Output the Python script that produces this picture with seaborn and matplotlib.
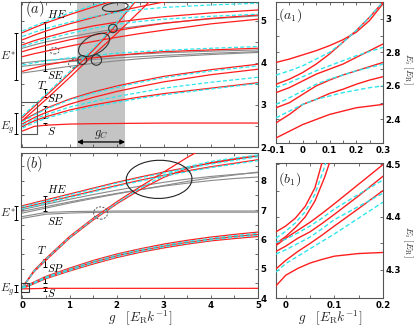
import numpy as np
import pandas as pd
import seaborn as sns
import matplotlib
matplotlib.use("Agg")
import matplotlib.pyplot as plt
from matplotlib.patches import Ellipse, Rectangle
import matplotlib.transforms as mtransforms

# ---------------- data: panel (a) ----------------
G_A = [0, 0.25, 0.5, 1, 1.5, 2, 2.5, 3, 4, 5]
A_S = [2.38, 2.49, 2.52, 2.545, 2.555, 2.56, 2.565, 2.57, 2.57, 2.57]
A_SP_R1 = [2.49, 2.62, 2.72, 2.88, 3.00, 3.10, 3.19, 3.27, 3.40, 3.53]
A_SP_R2 = [2.55, 2.70, 2.82, 3.02, 3.18, 3.32, 3.44, 3.55, 3.72, 3.85]
A_SP_R3 = [2.63, 2.78, 2.92, 3.14, 3.31, 3.45, 3.57, 3.68, 3.84, 3.97]
A_SP_C1 = [2.45, 2.58, 2.68, 2.84, 2.96, 3.06, 3.16, 3.24, 3.38, 3.51]
A_SP_C2 = [2.52, 2.66, 2.77, 2.95, 3.08, 3.20, 3.30, 3.40, 3.54, 3.66]
A_SP_C3 = [2.60, 2.76, 2.90, 3.12, 3.28, 3.42, 3.54, 3.65, 3.81, 3.93]
A_E_R1 = [4.72, 4.84, 4.95, 5.15, 5.33, 5.50, 5.65, 5.80, 6.00, 6.20]
A_E_C1 = [4.76, 4.88, 4.99, 5.19, 5.37, 5.53, 5.68, 5.80, 6.00, 6.20]
A_E_R2 = [4.55, 4.66, 4.76, 4.93, 5.08, 5.22, 5.34, 5.45, 5.60, 5.70]
A_E_C2 = [4.63, 4.73, 4.82, 4.97, 5.10, 5.20, 5.27, 5.32, 5.38, 5.42]
A_E_R3 = [4.43, 4.53, 4.61, 4.76, 4.88, 4.97, 5.04, 5.10, 5.19, 5.26]
A_E_C3 = [4.39, 4.48, 4.56, 4.70, 4.82, 4.92, 4.99, 5.04, 5.11, 5.16]
A_E_G1 = [4.35, 4.43, 4.50, 4.62, 4.72, 4.81, 4.88, 4.95, 5.05, 5.12]
A_E_R4 = [4.27, 4.35, 4.42, 4.55, 4.66, 4.77, 4.86, 4.94, 5.06, 5.14]
A_E_R5 = [4.15, 4.22, 4.28, 4.40, 4.51, 4.61, 4.70, 4.78, 4.93, 5.04]
A_F_C = [3.95, 4.00, 4.05, 4.12, 4.18, 4.23, 4.27, 4.30, 4.35, 4.39]
A_F_R = [3.80, 3.88, 3.95, 4.05, 4.12, 4.18, 4.23, 4.27, 4.31, 4.35]
A_F_G1 = [4.00, 4.03, 4.06, 4.10, 4.14, 4.18, 4.21, 4.24, 4.28, 4.31]
A_F_G2 = [3.92, 3.95, 3.98, 4.03, 4.08, 4.12, 4.15, 4.18, 4.23, 4.27]
A_F_G3 = [3.76, 3.80, 3.84, 3.92, 3.99, 4.05, 4.10, 4.14, 4.20, 4.25]
G_AT = [0, 0.25, 0.5, 0.75, 1.0, 1.25, 1.5, 1.75, 2.0, 2.25, 2.5, 2.75]
A_T_R1 = [2.70, 2.96, 3.22, 3.48, 3.75, 4.02, 4.30, 4.60, 4.92, 5.26, 5.60, 5.95]
A_T_C1 = [2.74, 3.00, 3.26, 3.52, 3.79, 4.06, 4.34, 4.64, 4.96, 5.30, 5.65, 6.00]
A_T_R2 = [2.63, 2.88, 3.13, 3.39, 3.65, 3.92, 4.18, 4.44, 4.70, 4.97, 5.24, 5.52]

# ---------------- data: panel (b) ----------------
G_B = [0, 0.5, 1, 1.5, 2, 2.5, 3, 3.5, 4, 4.5, 5]
B_S = [4.31, 4.33, 4.33, 4.33, 4.33, 4.33, 4.33, 4.33, 4.33, 4.33, 4.33]
B_P_R1 = [4.36, 4.74, 5.02, 5.28, 5.50, 5.68, 5.84, 5.97, 6.08, 6.17, 6.25]
B_P_C1 = [4.35, 4.72, 4.99, 5.25, 5.47, 5.65, 5.80, 5.93, 6.04, 6.13, 6.21]
B_P_R2 = [4.34, 4.70, 4.97, 5.22, 5.44, 5.62, 5.77, 5.90, 6.01, 6.10, 6.17]
B_P_C2 = [4.33, 4.68, 4.94, 5.19, 5.41, 5.59, 5.74, 5.87, 5.98, 6.07, 6.14]
B_P_R3 = [4.32, 4.66, 4.92, 5.16, 5.38, 5.56, 5.71, 5.84, 5.95, 6.03, 6.10]
B_E_R1 = [7.15, 7.35, 7.55, 7.75, 7.95, 8.13, 8.30, 8.46, 8.60, 8.73, 8.85]
B_E_C1 = [7.12, 7.32, 7.52, 7.72, 7.92, 8.10, 8.27, 8.43, 8.57, 8.70, 8.82]
B_E_R2 = [7.08, 7.27, 7.46, 7.65, 7.84, 8.02, 8.19, 8.34, 8.48, 8.60, 8.72]
B_E_C2 = [7.05, 7.24, 7.43, 7.62, 7.81, 7.99, 8.16, 8.31, 8.45, 8.57, 8.69]
B_E_G1 = [7.02, 7.20, 7.37, 7.53, 7.68, 7.82, 7.95, 8.06, 8.15, 8.22, 8.28]
B_E_G2 = [6.96, 7.12, 7.28, 7.43, 7.57, 7.70, 7.82, 7.92, 8.01, 8.08, 8.13]
B_E_G3 = [6.90, 7.07, 7.24, 7.40, 7.55, 7.70, 7.84, 7.98, 8.10, 8.20, 8.30]
B_F_G1 = [6.72, 6.86, 6.90, 6.92, 6.93, 6.93, 6.93, 6.93, 6.93, 6.93, 6.93]
B_F_G2 = [6.78, 6.92, 6.95, 6.96, 6.97, 6.97, 6.97, 6.97, 6.97, 6.97, 6.97]
G_BT = [0, 0.25, 0.5, 1.0, 1.5, 2.0, 2.5, 3.0, 3.5, 4.0, 4.5, 5.0]
B_T_R1 = [4.37, 4.95, 5.35, 6.10, 6.72, 7.28, 7.80, 8.30, 8.80, 9.25, 9.70, 10.1]
B_T_C1 = [4.36, 4.92, 5.32, 6.07, 6.69, 7.24, 7.75, 8.18, 8.48, 8.66, 8.78, 8.88]
B_T_R2 = [4.35, 4.90, 5.29, 6.04, 6.66, 7.21, 7.70, 8.12, 8.42, 8.62, 8.75, 8.86]

# ---------------- data: panel (a1) ----------------
G_A1 = [-0.1, -0.05, 0, 0.05, 0.1, 0.15, 0.2, 0.25, 0.3]
A1_R1 = [2.29, 2.33, 2.37, 2.40, 2.43, 2.45, 2.47, 2.48, 2.49]
A1_R2 = [2.38, 2.43, 2.49, 2.52, 2.555, 2.58, 2.61, 2.635, 2.655]
A1_R3 = [2.47, 2.50, 2.55, 2.60, 2.635, 2.665, 2.69, 2.715, 2.74]
A1_R4 = [2.56, 2.59, 2.63, 2.67, 2.70, 2.73, 2.77, 2.81, 2.85]
A1_R5 = [2.61, 2.64, 2.68, 2.73, 2.79, 2.86, 2.93, 3.01, 3.10]
A1_R6 = [2.74, 2.76, 2.785, 2.81, 2.84, 2.875, 2.92, 2.99, 3.09]
A1_C1 = [2.665, 2.69, 2.72, 2.76, 2.80, 2.86, 2.93, 3.01, 3.10]
A1_C2 = [2.59, 2.62, 2.655, 2.69, 2.72, 2.75, 2.78, 2.805, 2.83]
A1_C3 = [2.49, 2.53, 2.57, 2.61, 2.64, 2.665, 2.69, 2.71, 2.73]
A1_C4 = [2.41, 2.45, 2.49, 2.52, 2.54, 2.56, 2.575, 2.59, 2.60]

# ---------------- data: panel (b1) ----------------
G_B1 = [-0.02, 0, 0.025, 0.05, 0.075, 0.1, 0.15, 0.2]
B1_S = [4.27, 4.29, 4.303, 4.313, 4.32, 4.326, 4.331, 4.333]
B1_P_R1 = [4.346, 4.36, 4.375, 4.39, 4.407, 4.425, 4.462, 4.499]
B1_P_R2 = [4.335, 4.345, 4.36, 4.372, 4.388, 4.405, 4.44, 4.477]
B1_P_R3 = [4.302, 4.318, 4.335, 4.35, 4.366, 4.383, 4.416, 4.45]
B1_P_C1 = [4.352, 4.358, 4.37, 4.383, 4.398, 4.415, 4.443, 4.47]
B1_P_C2 = [4.33, 4.338, 4.35, 4.362, 4.378, 4.395, 4.42, 4.445]
B1_P_C3 = [4.296, 4.312, 4.326, 4.34, 4.354, 4.368, 4.398, 4.428]
G_B1T = [-0.02, 0, 0.02, 0.04, 0.06, 0.08, 0.1]
B1_T_R1 = [4.372, 4.383, 4.398, 4.42, 4.455, 4.52, 4.6]
B1_T_R2 = [4.35, 4.363, 4.38, 4.40, 4.43, 4.475, 4.53]
B1_T_C1 = [4.36, 4.373, 4.389, 4.41, 4.443, 4.495, 4.56]

RED = "#ff1e1e"
CYAN = "#2ee6ec"
GRAY = "#8a8a8a"

sns.set_style("ticks")
plt.rcParams["font.family"] = ["DejaVu Sans"]
plt.rcParams["mathtext.fontset"] = "cm"

fig = plt.figure(figsize=(4.15, 3.26), dpi=100)
W, H = 415.0, 326.0
def rect(l, t, r, b):
    return [l / W, 1 - b / H, (r - l) / W, (b - t) / H]

ax_a = fig.add_axes(rect(21, 2, 258, 147))
ax_b = fig.add_axes(rect(21, 153, 258, 298))
ax_a1 = fig.add_axes(rect(276, 2, 383, 143))
ax_b1 = fig.add_axes(rect(276, 163, 383, 298))


def line(ax, x, y, kind, lw=0.9):
    if kind == "r":
        kw = dict(color=RED, lw=lw, zorder=3)
    elif kind == "c":
        kw = dict(color=CYAN, lw=lw, zorder=4)
    else:
        kw = dict(color=GRAY, lw=lw * 0.9, zorder=2)
    df = pd.DataFrame({"g": x, "E": y})
    sns.lineplot(data=df, x="g", y="E", ax=ax, estimator=None, sort=False,
                 legend=False, **kw)
    if kind == "c":
        ax.lines[-1].set_dashes([3.2, 1.8])


# panel (a)
ax_a.axvspan(1.16, 2.18, color="#c4c4c4", zorder=0, lw=0)
for y in [A_F_G1, A_F_G2, A_F_G3, A_E_G1]:
    line(ax_a, G_A, y, "g")
for y in [A_S, A_SP_R1, A_SP_R2, A_SP_R3, A_E_R1, A_E_R2, A_E_R3, A_E_R4, A_E_R5, A_F_R]:
    line(ax_a, G_A, y, "r")
for y in [A_T_R1, A_T_R2]:
    line(ax_a, G_AT, y, "r")
for y in [A_SP_C1, A_SP_C2, A_SP_C3, A_E_C1, A_E_C2, A_E_C3, A_F_C]:
    line(ax_a, G_A, y, "c")
line(ax_a, G_AT, A_T_C1, "c")

# panel (b)
for y in [B_E_G1, B_E_G2, B_E_G3, B_F_G1, B_F_G2]:
    line(ax_b, G_B, y, "g")
for y in [B_S, B_P_R1, B_P_R2, B_P_R3, B_E_R1, B_E_R2]:
    line(ax_b, G_B, y, "r")
for y in [B_T_R1, B_T_R2]:
    line(ax_b, G_BT, y, "r")
for y in [B_P_C1, B_P_C2, B_E_C1, B_E_C2]:
    line(ax_b, G_B, y, "c")
line(ax_b, G_BT, B_T_C1, "c")

# panel (a1)
for y in [A1_R1, A1_R2, A1_R3, A1_R4, A1_R5, A1_R6]:
    line(ax_a1, G_A1, y, "r", lw=1.0)
for y in [A1_C1, A1_C2, A1_C3, A1_C4]:
    line(ax_a1, G_A1, y, "c", lw=1.0)

# panel (b1)
for y in [B1_S, B1_P_R1, B1_P_R2, B1_P_R3]:
    line(ax_b1, G_B1, y, "r", lw=1.0)
for y in [B1_T_R1, B1_T_R2]:
    line(ax_b1, G_B1T, y, "r", lw=1.0)
for y in [B1_P_C1, B1_P_C2, B1_P_C3]:
    line(ax_b1, G_B1, y, "c", lw=1.0)
line(ax_b1, G_B1T, B1_T_C1, "c", lw=1.0)

# limits / ticks
ax_a.set_xlim(-0.03, 5.0); ax_a.set_ylim(2.0, 5.45)
ax_b.set_xlim(-0.03, 5.0); ax_b.set_ylim(4.0, 8.95)
ax_a1.set_xlim(-0.1, 0.3); ax_a1.set_ylim(2.26, 3.1)
ax_b1.set_xlim(-0.02, 0.2); ax_b1.set_ylim(4.247, 4.502)

ax_a.set_xticks(np.arange(0, 5.01, 0.5)); ax_a.set_xticklabels([])
ax_a.set_yticks([2, 3, 4, 5]); ax_a.set_yticks([2.5, 3.5, 4.5], minor=True)
ax_b.set_xticks([0, 1, 2, 3, 4, 5]); ax_b.set_xticks([0.5, 1.5, 2.5, 3.5, 4.5], minor=True)
ax_b.set_yticks([4, 5, 6, 7, 8]); ax_b.set_yticks([4.5, 5.5, 6.5, 7.5, 8.5], minor=True)
ax_b.set_xticklabels(["0", "1", "2", "3", "4", "5"])
ax_a1.set_xticks([-0.1, 0, 0.1, 0.2, 0.3]); ax_a1.set_xticklabels(["-0.1", "0", "0.1", "0.2", "0.3"])
ax_a1.set_yticks([2.4, 2.6, 2.8, 3.0]); ax_a1.set_yticklabels(["2.4", "2.6", "2.8", "3"])
ax_b1.set_xticks([0, 0.1, 0.2]); ax_b1.set_xticklabels(["0", "0.1", "0.2"])
ax_b1.set_yticks([4.3, 4.4, 4.5]); ax_b1.set_yticklabels(["4.3", "4.4", "4.5"])
ax_b1.set_xticks([0.05, 0.15], minor=True); ax_b1.set_yticks([4.35, 4.45], minor=True)
ax_a1.set_xticks([-0.05, 0.05, 0.15, 0.25], minor=True); ax_a1.set_yticks([2.5, 2.7, 2.9], minor=True)
ax_a.set_yticklabels(["2", "3", "4", "5"])
ax_b.set_yticklabels(["4", "5", "6", "7", "8"])

for ax in [ax_a, ax_b, ax_a1, ax_b1]:
    ax.set_xlabel(""); ax.set_ylabel("")
    ax.tick_params(which="both", direction="in", top=True, right=True, left=True, bottom=True,
                   labelleft=False, labelright=True, length=2.5, width=0.5,
                   labelsize=6.2, pad=2, colors="#333333", labelcolor="black")
    for lab in ax.get_xticklabels() + ax.get_yticklabels():
        lab.set_fontweight("bold")
    for s in ax.spines.values():
        s.set_color("#555555"); s.set_linewidth(0.8); s.set_visible(True)

# annotations (a)
txt = dict(fontsize=8, color="black")
ax_a.text(0.05, 5.18, r"$(a)$", fontsize=10.5)
ax_a.plot([0.47, 0.47], [4.98, 3.82], color="black", lw=0.7, marker="_", ms=3, mew=0.7)
ax_a.text(0.52, 5.08, r"$HE$", **txt)
ax_a.text(0.52, 3.62, r"$SE$", **txt)
ax_a.text(0.32, 3.38, r"$T$", **txt)
ax_a.plot([0.47, 0.47], [3.38, 3.18], color="black", lw=0.7, marker="_", ms=3, mew=0.7)
ax_a.text(0.52, 3.08, r"$SP$", **txt)
ax_a.plot([0.47, 0.47], [2.98, 2.68], color="black", lw=0.7, marker="_", ms=3, mew=0.7)
ax_a.plot([0.47, 0.47], [2.58, 2.52], color="black", lw=0.7, marker="_", ms=3, mew=0.7)
ax_a.text(0.52, 2.28, r"$S$", **txt)
ax_a.add_patch(Rectangle((-0.1, 2.3), 0.4, 0.78, fill=False, ec="#555555", lw=0.8, zorder=5))
ax_a.add_patch(Ellipse((1.97, 5.33), 0.55, 0.2, angle=8, fill=False, ec="#333333", lw=0.8, zorder=6))
ax_a.add_patch(Ellipse((1.52, 4.43), 0.75, 0.42, angle=35, fill=False, ec="#333333", lw=0.8, zorder=6))
ax_a.add_patch(Ellipse((1.27, 4.07), 0.19, 0.21, fill=False, ec="#333333", lw=0.8, zorder=6))
ax_a.add_patch(Ellipse((1.57, 4.07), 0.22, 0.25, fill=False, ec="#333333", lw=0.8, zorder=6))
ax_a.add_patch(Ellipse((1.92, 4.82), 0.18, 0.20, fill=False, ec="#333333", lw=0.8, zorder=6))
ax_a.add_patch(Ellipse((0.68, 4.29), 0.20, 0.15, fill=False, ec="#555555", lw=0.7, ls=(0, (2, 1.5)), zorder=6))
ax_a.add_patch(Ellipse((1.08, 3.98), 0.20, 0.20, fill=False, ec="#555555", lw=0.7, ls=(0, (2, 1.5)), zorder=6))
ax_a.annotate("", xy=(1.16, 2.12), xytext=(2.18, 2.12),
              arrowprops=dict(arrowstyle="<|-|>", color="black", lw=0.9, mutation_scale=7,
                              shrinkA=0, shrinkB=0))
ax_a.text(1.67, 2.25, r"$g_C$", fontsize=9, ha="center")

BX = -0.019
trans_a = mtransforms.blended_transform_factory(ax_a.transAxes, ax_a.transData)
ax_a.plot([BX, BX], [3.59, 4.72], transform=trans_a, clip_on=False, color="black",
          lw=0.7, marker="_", ms=3, mew=0.7)
ax_a.plot([BX, BX], [2.31, 2.82], transform=trans_a, clip_on=False, color="black",
          lw=0.7, marker="_", ms=3, mew=0.7)
trans_fa = mtransforms.blended_transform_factory(fig.transFigure, ax_a.transData)
ax_a.text(0.3 / W, 4.15, r"$E^{*}$", transform=trans_fa, ha="left", va="center", fontsize=8.5)
ax_a.text(0.3 / W, 2.45, r"$E_g$", transform=trans_fa, ha="left", va="center", fontsize=8.5)

# annotations (b)
ax_b.text(0.05, 8.45, r"$(b)$", fontsize=10.5)
ax_b.plot([0.47, 0.47], [7.48, 6.98], color="black", lw=0.7, marker="_", ms=3, mew=0.7)
ax_b.text(0.52, 7.6, r"$HE$", **txt)
ax_b.text(0.52, 6.5, r"$SE$", **txt)
ax_b.text(0.32, 5.5, r"$T$", **txt)
ax_b.plot([0.47, 0.47], [5.33, 5.06], color="black", lw=0.7, marker="_", ms=3, mew=0.7)
ax_b.text(0.52, 4.88, r"$SP$", **txt)
ax_b.plot([0.47, 0.47], [4.72, 4.5], color="black", lw=0.7, marker="_", ms=3, mew=0.7)
ax_b.plot([0.47, 0.47], [4.36, 4.24], color="black", lw=0.7, marker="_", ms=3, mew=0.7)
ax_b.text(0.52, 4.05, r"$S$", **txt)
ax_b.add_patch(Rectangle((-0.02, 4.2), 0.17, 0.32, fill=False, ec="#333333", lw=0.8, zorder=5))
ax_b.add_patch(Ellipse((2.9, 8.05), 1.4, 1.3, angle=10, fill=False, ec="#222222", lw=0.8, zorder=6))
ax_b.add_patch(Ellipse((1.66, 6.9), 0.3, 0.42, fill=False, ec="#555555", lw=0.7, ls=(0, (2, 1.5)), zorder=6))
trans_b = mtransforms.blended_transform_factory(ax_b.transAxes, ax_b.transData)
ax_b.plot([BX, BX], [6.65, 7.15], transform=trans_b, clip_on=False, color="black",
          lw=0.7, marker="_", ms=3, mew=0.7)
ax_b.plot([BX, BX], [4.2, 4.45], transform=trans_b, clip_on=False, color="black",
          lw=0.7, marker="_", ms=3, mew=0.7)
trans_fb = mtransforms.blended_transform_factory(fig.transFigure, ax_b.transData)
ax_b.text(0.3 / W, 6.9, r"$E^{*}$", transform=trans_fb, ha="left", va="center", fontsize=8.5)
ax_b.text(0.3 / W, 4.3, r"$E_g$", transform=trans_fb, ha="left", va="center", fontsize=8.5)

ax_a1.text(-0.092, 3.0, r"$(a_1)$", fontsize=10)
ax_b1.text(-0.015, 4.465, r"$(b_1)$", fontsize=10)

fig.text(140 / W, 1 - 318 / H, r"$g\quad[E_{\rm R}k^{-1}]$", ha="center", va="center", fontsize=9.5)
fig.text(330 / W, 1 - 318 / H, r"$g\quad[E_{\rm R}k^{-1}]$", ha="center", va="center", fontsize=9.5)
fig.text(408 / W, 1 - 69 / H, r"$E_i\ [E_{\rm R}]$", rotation=270, ha="center", va="center", fontsize=7)
fig.text(408 / W, 1 - 242 / H, r"$E_i\ [E_{\rm R}]$", rotation=270, ha="center", va="center", fontsize=7)

fig.savefig("out.png", dpi=100)
